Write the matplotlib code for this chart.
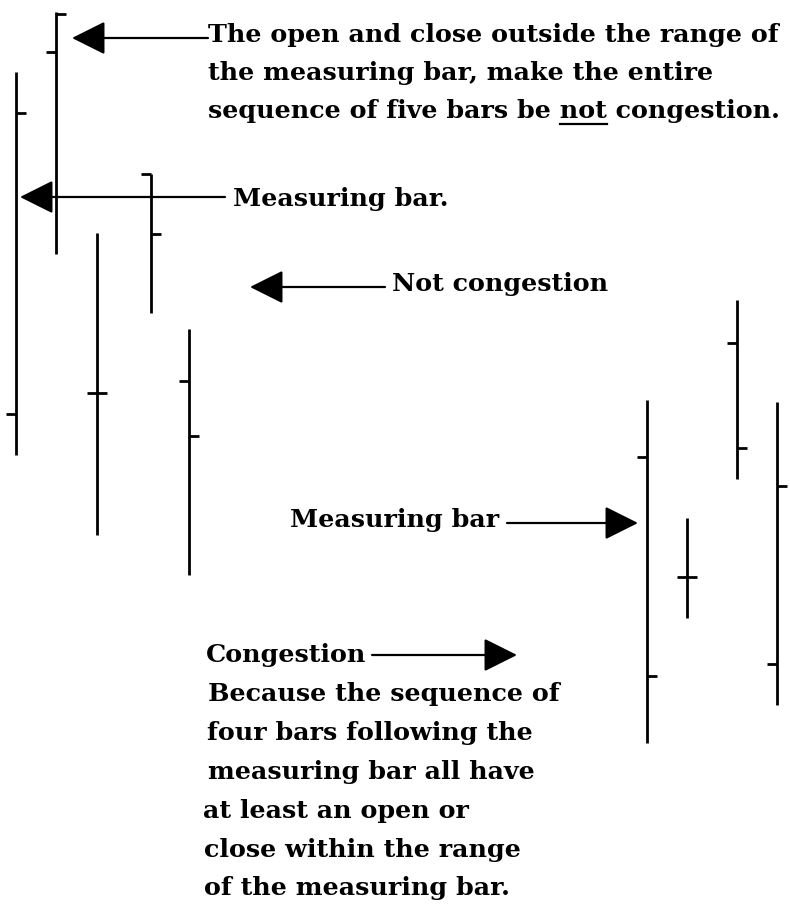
import matplotlib
matplotlib.use("Agg")
import matplotlib.pyplot as plt

# bar chart sketch: x position, high, low, open (left tick), close (right tick)
# price axis is drawn inverted so values read like screen rows
bar_x = [16, 56, 97, 151, 189, 647, 687, 737, 777]
highs = [72, 12, 233, 174, 329, 400, 518, 300, 402]
lows = [455, 254, 535, 313, 575, 743, 618, 479, 705]
opens = [414, 52, 393, 174, 381, 457, 577, 343, 664]
closes = [113, 14, 393, 234, 436, 676, 577, 448, 486]

top_lines = ["The open and close outside the range of",
             "the measuring bar, make the entire",
             "sequence of five bars be not congestion."]
bottom_lines = ["Because the sequence of",
                "four bars following the",
                "measuring bar all have",
                "at least an open or",
                "close within the range",
                "of the measuring bar."]

W, H = 790, 907
fig = plt.figure(figsize=(W / 100, H / 100), dpi=100)
ax = fig.add_axes([0, 0, 1, 1])
ax.set_xlim(0, W)
ax.set_ylim(H, 0)
ax.axis("off")

lw = 2.0
tick = 10
ax.vlines(bar_x, highs, lows, color="black", lw=lw)
ax.hlines(opens, [x - tick for x in bar_x], bar_x, color="black", lw=lw)
ax.hlines(closes, bar_x, [x + tick for x in bar_x], color="black", lw=lw)

font = dict(family="DejaVu Serif", weight="bold", size=18.3, color="black")

arrow = dict(arrowstyle="-|>", mutation_scale=52, lw=1.6, color="black",
             shrinkA=0, shrinkB=0)


def arr(x0, x1, y):
    ax.annotate("", xy=(x1, y), xytext=(x0, y), arrowprops=arrow)


# top comment
arr(208, 72, 38)
top_y = [42, 80, 118]
for s, y in zip(top_lines, top_y):
    ax.text(208, y, s, va="baseline", ha="left", **font)

# underline "not"
fig.canvas.draw()
r = fig.canvas.get_renderer()
pre = ax.text(208, 118, "sequence of five bars be ", va="baseline", **font)
word = ax.text(208, 118, "sequence of five bars be not", va="baseline", **font)
inv = ax.transData.inverted()
x0 = inv.transform(pre.get_window_extent(r).get_points())[1][0]
x1 = inv.transform(word.get_window_extent(r).get_points())[1][0]
pre.remove()
word.remove()
ax.plot([x0, x1], [124, 124], color="black", lw=1.6)

arr(225, 20, 197)
ax.text(233, 206, "Measuring bar.", va="baseline", **font)

arr(385, 250, 287)
ax.text(392, 291, "Not congestion", va="baseline", **font)

arr(507, 638, 523)
ax.text(290, 527, "Measuring bar", va="baseline", **font)

arr(372, 517, 655)
ax.text(206, 662, "Congestion", va="baseline", **font)

bottom_x = [208, 207, 208, 203, 204, 204]
bottom_y = [701, 740, 779, 818, 857, 895]
for s, x, y in zip(bottom_lines, bottom_x, bottom_y):
    ax.text(x, y, s, va="baseline", ha="left", **font)

fig.savefig("out.png", dpi=100, facecolor="white")
